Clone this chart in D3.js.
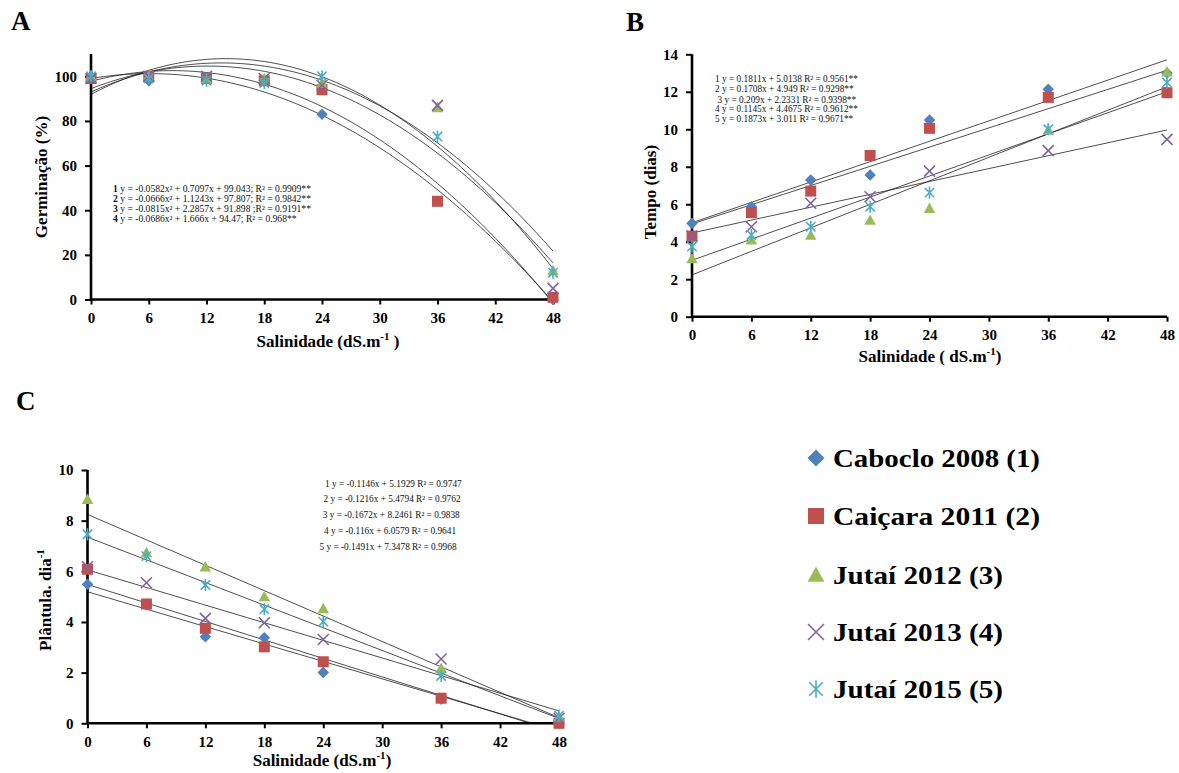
<!DOCTYPE html>
<html><head><meta charset="utf-8">
<script src="https://cdn.jsdelivr.net/npm/d3@7"></script>
<style>
body{margin:0;background:#fff;}
svg{display:block;}
text{font-family:"Liberation Serif","Times New Roman",serif;}
</style></head>
<body>
<svg id="chart" width="1179" height="773"></svg>
<script>
// ---------- DATA ----------
const salinity = [0, 6, 12, 18, 24, 36, 48];
const xTicks = [0, 6, 12, 18, 24, 30, 36, 42, 48];
const cultivars = ["Caboclo 2008 (1)", "Caiçara 2011 (2)", "Jutaí 2012 (3)", "Jutaí 2013 (4)", "Jutaí 2015 (5)"];
const colors = ["#4F81BD", "#C0504D", "#9BBB59", "#8064A2", "#4BACC6"];
const markerTypes = ["diamond", "square", "triangle", "x", "star"];

// Panel A: germination (%)
const germ1 = [100, 98, 99, 98, 83, 44, 0];
const germ2 = [99, 100, 99, 98, 94, 44, 1];
const germ3 = [100, 100, 99, 99, 97, 86, 13];
const germ4 = [99, 100, 100, 99, 96, 87, 5];
const germ5 = [100, 99, 98, 97, 100, 73, 12];
// quadratic trend coefficients [a, b, c]  (y = a x^2 + b x + c)
const germFit1 = [-0.0582, 0.7097, 99.043];
const germFit2 = [-0.0666, 1.1243, 97.807];
const germFit3 = [-0.0815, 2.2857, 91.898];
const germFit4 = [-0.0686, 1.666, 94.47];
const germFit5 = [-0.071, 1.922, 93.0];
const germYTicks = [0, 20, 40, 60, 80, 100];
const germEq = [
  ["1", " y = -0.0582x² + 0.7097x + 99.043; R² = 0.9909**"],
  ["2", " y = -0.0666x² + 1.1243x + 97.807; R² = 0.9842**"],
  ["3", " y = -0.0815x² + 2.2857x + 91.898 ;R² = 0.9191**"],
  ["4", " y = -0.0686x² + 1.666x + 94.47; R² = 0.968**"]
];

// Panel B: time (days)
const tempo1 = [4.98, 5.87, 7.29, 7.56, 10.5, 12.13, 13.0];
const tempo2 = [4.3, 5.55, 6.7, 8.6, 10.05, 11.7, 11.95];
const tempo3 = [3.1, 4.1, 4.35, 5.15, 5.78, 9.96, 13.07];
const tempo4 = [4.3, 4.8, 6.05, 6.4, 7.77, 8.86, 9.46];
const tempo5 = [3.74, 4.36, 4.8, 5.87, 6.62, 10.0, 12.49];
// linear trend coefficients [slope, intercept]
const tempoFit1 = [0.1811, 5.0138];
const tempoFit2 = [0.1708, 4.949];
const tempoFit3 = [0.209, 2.2331];
const tempoFit4 = [0.1145, 4.4675];
const tempoFit5 = [0.1873, 3.011];
const tempoYTicks = [0, 2, 4, 6, 8, 10, 12, 14];
const tempoEq = [
  "1 y = 0.1811x + 5.0138 R² = 0.9561**",
  "2 y = 0.1708x + 4.949 R² = 0.9298**",
  "3 y = 0.209x + 2.2331 R² = 0.9398**",
  "4 y = 0.1145x + 4.4675 R² = 0.9612**",
  "5 y = 0.1873x + 3.011 R² = 0.9671**"
];

// Panel C: seedlings per day
const plant1 = [5.49, 4.7, 3.42, 3.38, 2.01, 0.95, 0.1];
const plant2 = [6.08, 4.71, 3.75, 3.02, 2.43, 0.99, 0.0];
const plant3 = [8.84, 6.74, 6.18, 5.0, 4.53, 2.17, 0.26];
const plant4 = [6.18, 5.55, 4.14, 3.97, 3.31, 2.54, 0.2];
const plant5 = [7.46, 6.6, 5.46, 4.5, 4.01, 1.87, 0.3];
const plantFit1 = [-0.1146, 5.1929];
const plantFit2 = [-0.1216, 5.4794];
const plantFit3 = [-0.1672, 8.2461];
const plantFit4 = [-0.116, 6.0579];
const plantFit5 = [-0.1491, 7.3478];
const plantYTicks = [0, 2, 4, 6, 8, 10];
const plantEq = [
  "1 y = -0.1146x + 5.1929 R² = 0.9747",
  "2 y = -0.1216x + 5.4794 R² = 0.9762",
  "3 y = -0.1672x + 8.2461 R² = 0.9838",
  "4 y = -0.116x + 6.0579 R² = 0.9641",
  "5 y = -0.1491x + 7.3478 R² = 0.9968"
];

// ---------- DRAWING ----------
const svg = d3.select("#chart");

function drawMarker(g, type, cx, cy, size, color) {
  const s = size / 2;
  if (type === "diamond") {
    g.append("path").attr("d", `M${cx},${cy - s * 1.05}L${cx + s * 1.05},${cy}L${cx},${cy + s * 1.05}L${cx - s * 1.05},${cy}Z`).attr("fill", color);
  } else if (type === "square") {
    g.append("rect").attr("x", cx - s).attr("y", cy - s).attr("width", size).attr("height", size).attr("fill", color);
  } else if (type === "triangle") {
    g.append("path").attr("d", `M${cx},${cy - s * 1.05}L${cx + s * 1.05},${cy + s * 0.85}L${cx - s * 1.05},${cy + s * 0.85}Z`).attr("fill", color);
  } else if (type === "x") {
    g.append("path").attr("d", `M${cx - s},${cy - s}L${cx + s},${cy + s}M${cx - s},${cy + s}L${cx + s},${cy - s}`)
      .attr("stroke", color).attr("stroke-width", 1.6).attr("fill", "none");
  } else if (type === "star") {
    g.append("path").attr("d", `M${cx - s * 0.85},${cy - s * 0.85}L${cx + s * 0.85},${cy + s * 0.85}M${cx - s * 0.85},${cy + s * 0.85}L${cx + s * 0.85},${cy - s * 0.85}M${cx},${cy - s * 1.1}L${cx},${cy + s * 1.1}`)
      .attr("stroke", color).attr("stroke-width", 1.6).attr("fill", "none");
  }
}

function panel(opts) {
  const {id, left, right, top, bottom, ymax, yTicks, series, fits, fitType} = opts;
  const x = d3.scaleLinear().domain([0, 48]).range([left, right]);
  const y = d3.scaleLinear().domain([0, ymax]).range([bottom, top]);
  const g = svg.append("g");
  g.append("clipPath").attr("id", "clip" + id).append("rect")
    .attr("x", left).attr("y", top).attr("width", right - left + 1).attr("height", bottom - top);

  // trend lines
  const lg = g.append("g").attr("clip-path", `url(#clip${id})`);
  fits.forEach(f => {
    let pts;
    if (fitType === "quad") {
      pts = d3.range(0, 48.01, 0.5).map(v => [v, f[0] * v * v + f[1] * v + f[2]]);
    } else {
      pts = [[0, f[1]], [48, f[0] * 48 + f[1]]];
    }
    lg.append("path").attr("d", d3.line().x(d => x(d[0])).y(d => y(d[1]))(pts))
      .attr("fill", "none").attr("stroke", "#222").attr("stroke-width", 0.8);
  });

  // axes
  const xa = g.append("g").attr("transform", `translate(0,${bottom})`)
    .call(d3.axisBottom(x).tickValues(xTicks).tickSize(5).tickSizeOuter(0).tickPadding(8));
  const ya = g.append("g").attr("transform", `translate(${left},0)`)
    .call(d3.axisLeft(y).tickValues(yTicks).tickSize(6).tickSizeOuter(0).tickPadding(8));
  [xa, ya].forEach(a => {
    a.select(".domain").attr("stroke", "#000").attr("stroke-width", 2.6);
    a.selectAll(".tick line").attr("stroke", "#000").attr("stroke-width", 2);
    a.selectAll(".tick text").attr("font-size", 15).attr("font-weight", "bold")
      .attr("font-family", "'Liberation Serif', serif").attr("fill", "#000");
  });
  ya.select(".domain").attr("d", `M0,${bottom}V${top}`);
  xa.select(".domain").attr("d", `M${left},0H${right}`);

  // markers
  series.forEach((vals, si) => {
    vals.forEach((v, i) => {
      drawMarker(g, markerTypes[si], x(salinity[i]), y(v), 11, colors[si]);
    });
  });
  return {x, y, g};
}

// Panel A
panel({id: "A", left: 91, right: 553, top: 54, bottom: 299.5, ymax: 110, yTicks: germYTicks,
  series: [germ1, germ2, germ3, germ4, germ5], fits: [germFit1, germFit2, germFit3, germFit4, germFit5], fitType: "quad"});
// Panel B
panel({id: "B", left: 692, right: 1167, top: 54.3, bottom: 316.7, ymax: 14, yTicks: tempoYTicks,
  series: [tempo1, tempo2, tempo3, tempo4, tempo5], fits: [tempoFit1, tempoFit2, tempoFit3, tempoFit4, tempoFit5], fitType: "lin"});
// Panel C
panel({id: "C", left: 87.5, right: 559, top: 470, bottom: 723.3, ymax: 10, yTicks: plantYTicks,
  series: [plant1, plant2, plant3, plant4, plant5], fits: [plantFit1, plantFit2, plantFit3, plantFit4, plantFit5], fitType: "lin"});

// Panel letters
[["A", 11, 30], ["B", 626, 31], ["C", 16, 410]].forEach(([t, px, py]) => {
  svg.append("text").attr("x", px).attr("y", py).text(t)
    .attr("font-size", 27).attr("font-weight", "bold");
});

// Axis titles
function xTitle(cx, cy, pre, post) {
  const t = svg.append("text").attr("x", cx).attr("y", cy).attr("text-anchor", "middle")
    .attr("font-size", 17).attr("font-weight", "bold");
  t.append("tspan").text(pre);
  t.append("tspan").text("-1").attr("font-size", 11).attr("dy", -7);
  t.append("tspan").text(post).attr("dy", 7);
}
xTitle(328, 347, "Salinidade (dS.m", " )");
xTitle(930, 362, "Salinidade ( dS.m", ")");
xTitle(322, 766, "Salinidade (dS.m", ")");

svg.append("text").attr("transform", "translate(47,177) rotate(-90)").attr("text-anchor", "middle")
  .attr("font-size", 17).attr("font-weight", "bold").text("Germinação (%)");
svg.append("text").attr("transform", "translate(656,192) rotate(-90)").attr("text-anchor", "middle")
  .attr("font-size", 17).attr("font-weight", "bold").text("Tempo (dias)");
{
  const t = svg.append("text").attr("transform", "translate(51,600) rotate(-90)").attr("text-anchor", "middle")
    .attr("font-size", 17).attr("font-weight", "bold");
  t.append("tspan").text("Plântula. dia");
  t.append("tspan").text("-1").attr("font-size", 11).attr("dy", -7);
}

// Equations
germEq.forEach((e, i) => {
  const t = svg.append("text").attr("x", 113).attr("y", 191.5 + i * 10).attr("font-size", 9.6).attr("fill", "#111");
  t.append("tspan").text(e[0]).attr("font-weight", "bold");
  t.append("tspan").text(e[1]);
});
const tempoEqX = [715, 715, 717.5, 715, 715];
const tempoEqY = [81.5, 92, 102.5, 112, 122];
tempoEq.forEach((e, i) => {
  svg.append("text").attr("x", tempoEqX[i]).attr("y", tempoEqY[i]).attr("font-size", 9.3).attr("fill", "#111").text(e);
});
const plantEqX = [325, 323.5, 322.7, 324, 319.5];
const plantEqY = [487, 502, 518, 533.5, 550];
plantEq.forEach((e, i) => {
  svg.append("text").attr("x", plantEqX[i]).attr("y", plantEqY[i]).attr("font-size", 9.3).attr("fill", "#111").text(e);
});

// Legend
const legY = [458, 516, 575, 632, 689];
const legW = [207, 207, 170, 170, 170];
cultivars.forEach((c, i) => {
  const lg = svg.append("g");
  drawMarker(lg, markerTypes[i], 816, legY[i], 16, colors[i]);
  svg.append("text").attr("x", 833).attr("y", legY[i] + 9).attr("font-size", 26).attr("font-weight", "bold")
    .attr("textLength", legW[i]).attr("lengthAdjust", "spacingAndGlyphs").text(c);
});
</script>
</body></html>
